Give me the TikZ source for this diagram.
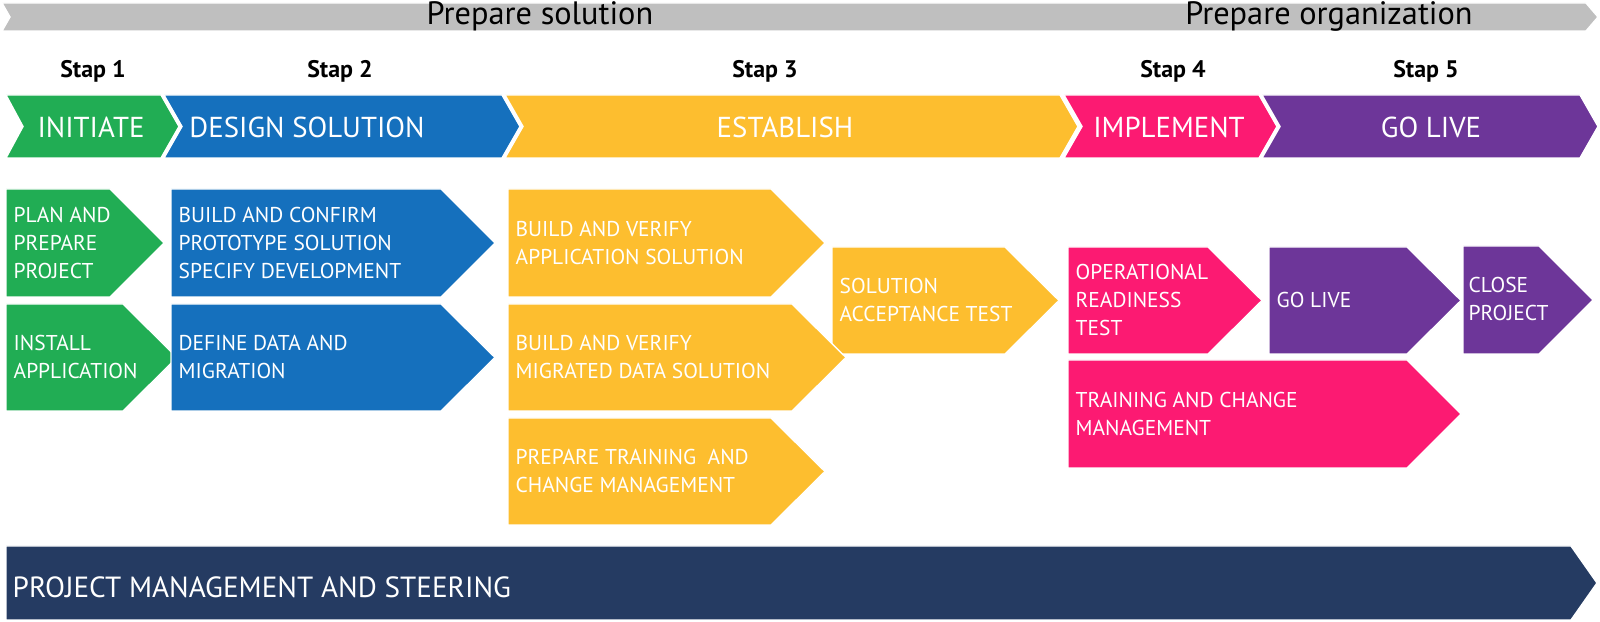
\documentclass[tikz,border=0pt]{standalone}
\usepackage{fontspec}
\setmainfont{PT Sans}
\definecolor{bandgray}{HTML}{BFBFBF}
\definecolor{initgreen}{HTML}{21AD54}
\definecolor{designblue}{HTML}{1570BD}
\definecolor{establishyellow}{HTML}{FDBE2F}
\definecolor{implpink}{HTML}{FC1A72}
\definecolor{livepurple}{HTML}{6D3699}
\definecolor{steernavy}{HTML}{253B62}
% #1 fill, #2 left x, #3 top y, #4 tip x, #5 bottom y, #6 tip depth, #7 notch depth
\newcommand{\chevshape}[7]{%
  \filldraw[fill=#1, draw=white, line width=0.4pt]
    (#2,#3) -- ({#4-#6},#3) -- (#4,{(#3+#5)/2}) -- ({#4-#6},#5) -- (#2,#5)
    -- ({#2+#7},{(#3+#5)/2}) -- cycle;}
\begin{document}
\begin{tikzpicture}[
  x=0.01cm, y=-0.01cm,
  every node/.style={inner sep=0pt},
  headtext/.style={font=\fontsize{9.2}{10}\selectfont},
  staptext/.style={font=\bfseries\fontsize{6.8}{7}\selectfont},
  phasetext/.style={text=white, font=\fontsize{8.2}{10}\selectfont},
  boxtext/.style={anchor=west, align=left, text=white, font=\fontsize{6.1}{7.9}\selectfont},
  steertext/.style={anchor=west, text=white, font=\fontsize{8.3}{9}\selectfont}
]
\useasboundingbox (0,0) rectangle (1600,622);

% Top band
\chevshape{bandgray}{2}{3}{1598}{31}{12}{8}
\node[headtext] (prepsol) at (540,16) {Prepare solution};
\node[headtext] (preporg) at (1329,16) {Prepare organization};

% Steps
\node[staptext] (stap1) at (93,71)   {Stap 1};
\node[staptext] (stap2) at (340,71)  {Stap 2};
\node[staptext] (stap3) at (765,71)  {Stap 3};
\node[staptext] (stap4) at (1173,71) {Stap 4};
\node[staptext] (stap5) at (1426,71) {Stap 5};

% Phases
\chevshape{initgreen}{6}{95}{179}{158}{18}{17}
\chevshape{designblue}{164}{95}{520}{158}{18}{18}
\chevshape{establishyellow}{505}{95}{1078}{158}{18}{18}
\chevshape{implpink}{1064}{95}{1277}{158}{18}{18}
\chevshape{livepurple}{1262}{95}{1598}{158}{18}{18}
\node[phasetext] (initiate)  at (91,127)   {INITIATE};
\node[phasetext] (design)    at (307,127)  {DESIGN SOLUTION};
\node[phasetext] (establish) at (785,127)  {ESTABLISH};
\node[phasetext] (implement) at (1169,127) {IMPLEMENT};
\node[phasetext] (golive)    at (1431,127) {GO LIVE};

% Activities
\chevshape{initgreen}{6}{189}{164}{297}{54}{0}
\chevshape{initgreen}{6}{304}{177}{411}{54}{0}
\chevshape{designblue}{171}{189}{495}{297}{54}{0}
\chevshape{designblue}{171}{304}{495}{411}{54}{0}
\chevshape{establishyellow}{508}{189}{825}{297}{54}{0}
\chevshape{establishyellow}{832}{247}{1059}{354}{54}{0}
\chevshape{establishyellow}{508}{304}{846}{411}{54}{0}
\chevshape{establishyellow}{508}{418}{825}{525}{54}{0}
\chevshape{implpink}{1068}{247}{1262}{354}{54}{0}
\chevshape{livepurple}{1269}{247}{1461}{354}{54}{0}
\chevshape{livepurple}{1463}{246}{1593}{354}{54}{0}
\chevshape{implpink}{1068}{360}{1461}{468}{54}{0}

\node[boxtext] (planprep)  at (13,243)   {PLAN AND\\PREPARE\\PROJECT};
\node[boxtext] (install)   at (13,357)   {INSTALL\\APPLICATION};
\node[boxtext] (prototype) at (178,243)  {BUILD AND CONFIRM\\PROTOTYPE SOLUTION\\SPECIFY DEVELOPMENT};
\node[boxtext] (datamig)   at (178,357)  {DEFINE DATA AND\\MIGRATION};
\node[boxtext] (appsol)    at (515,243)  {BUILD AND VERIFY\\APPLICATION SOLUTION};
\node[boxtext] (migsol)    at (515,357)  {BUILD AND VERIFY\\MIGRATED DATA SOLUTION};
\node[boxtext] (preptrain) at (515,471)  {PREPARE TRAINING~ AND\\CHANGE MANAGEMENT};
\node[boxtext] (sat)       at (839,300)  {SOLUTION\\ACCEPTANCE TEST};
\node[boxtext] (ort)       at (1075,300) {OPERATIONAL\\READINESS\\TEST};
\node[boxtext] (goact)     at (1276,300) {GO LIVE};
\node[boxtext] (close)     at (1468,299) {CLOSE\\PROJECT};
\node[boxtext] (training)  at (1075,414) {TRAINING AND CHANGE\\MANAGEMENT};

% Steering
\chevshape{steernavy}{6}{546}{1597}{620}{26}{0}
\node[steertext] (steer) at (12,587) {PROJECT MANAGEMENT AND STEERING};
\end{tikzpicture}
\end{document}
